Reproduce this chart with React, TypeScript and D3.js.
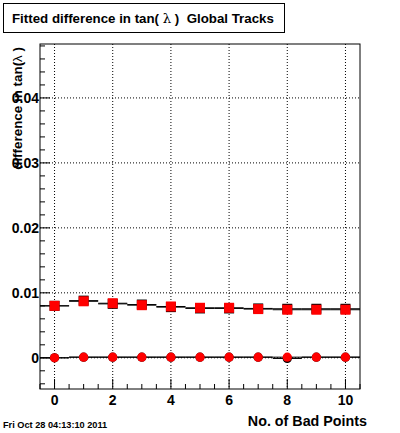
import * as d3 from 'd3';

// bad points (bin centers)
const badPoints = [0, 1, 2, 3, 4, 5, 6, 7, 8, 9, 10];

// upper series (squares): black underlay graph and red overlay graph
const slopeBlack = [0.0080, 0.0088, 0.0083, 0.0082, 0.0078, 0.0076, 0.0076, 0.0076, 0.00755, 0.00755, 0.00755];
const slopeRed = [0.0080, 0.0087, 0.0084, 0.0081, 0.0079, 0.0077, 0.0077, 0.0075, 0.0074, 0.0074, 0.0074];

// lower series (circles)
const offsetBlack = [0.0, 0.0001, 0.0001, 0.0001, 0.0001, 0.0001, 0.0001, 0.0001, -0.0001, 0.0001, 0.0001];
const offsetRed = [0.0, 0.0001, 0.0001, 0.0001, 0.0001, 0.0001, 0.0001, 0.0001, 0.0001, 0.0001, 0.0001];

const xTickLabels = [0, 2, 4, 6, 8, 10];
const yTickLabels = [0, 0.01, 0.02, 0.03, 0.04];

const W = 400;
const H = 433;
const frame = { left: 40, right: 360, top: 44, bottom: 389 };

export default function App() {
  const x = d3.scaleLinear().domain([-0.5, 10.5]).range([frame.left, frame.right]);
  const y = d3.scaleLinear().domain([-0.0048, 0.0483]).range([frame.bottom, frame.top]);

  const xMinor = d3.range(-0.5, 10.51, 0.5);
  const yMinor = d3.range(-0.004, 0.0481, 0.002);

  const font = '"Liberation Sans", Arial, Helvetica, sans-serif';

  const segments = (vals: number[], key: string, width: number) =>
    vals.map((v, i) => (
      <line
        key={key + i}
        x1={x(badPoints[i] - 0.5)}
        x2={x(badPoints[i] + 0.5)}
        y1={y(v)}
        y2={y(v)}
        stroke="#000"
        strokeWidth={width}
      />
    ));

  const squares = (vals: number[], key: string, color: string) =>
    vals.map((v, i) => (
      <rect key={key + i} x={x(badPoints[i]) - 5} y={y(v) - 5} width={10} height={10} fill={color} />
    ));

  const circles = (vals: number[], key: string, color: string) =>
    vals.map((v, i) => <circle key={key + i} cx={x(badPoints[i])} cy={y(v)} r={4.6} fill={color} />);

  return (
    <svg
      width={W}
      height={H}
      style={{ position: 'absolute', left: 0, top: 0, background: '#fff' }}
      fontFamily={font}
    >
      <rect x={0} y={0} width={W} height={H} fill="#fff" />

      {/* grid */}
      {xTickLabels.map((t) => (
        <line key={'gx' + t} x1={x(t)} x2={x(t)} y1={frame.top} y2={frame.bottom} stroke="#000" strokeDasharray="1 2" />
      ))}
      {yTickLabels.map((t) => (
        <line key={'gy' + t} x1={frame.left} x2={frame.right} y1={y(t)} y2={y(t)} stroke="#000" strokeDasharray="1 2" />
      ))}

      {/* frame */}
      <rect
        x={frame.left}
        y={frame.top}
        width={frame.right - frame.left}
        height={frame.bottom - frame.top}
        fill="none"
        stroke="#000"
      />

      {/* x ticks */}
      {xMinor.map((t) => {
        const major = Math.abs(t / 2 - Math.round(t / 2)) < 1e-6;
        return (
          <line key={'xt' + t} x1={x(t)} x2={x(t)} y1={frame.bottom} y2={frame.bottom - (major ? 10 : 5)} stroke="#000" />
        );
      })}
      {xTickLabels.map((t) => (
        <text key={'xl' + t} x={x(t)} y={405} textAnchor="middle" fontSize={14} fontWeight="bold">
          {t}
        </text>
      ))}

      {/* y ticks */}
      {yMinor.map((t) => {
        const major = Math.abs(t / 0.01 - Math.round(t / 0.01)) < 1e-6;
        return (
          <line key={'yt' + t} x1={frame.left} x2={frame.left + (major ? 10 : 5)} y1={y(t)} y2={y(t)} stroke="#000" />
        );
      })}
      {yTickLabels.map((t) => (
        <text key={'yl' + t} x={39} y={y(t) + 5} textAnchor="end" fontSize={14} fontWeight="bold">
          {t === 0 ? '0' : d3.format('.2f')(t)}
        </text>
      ))}

      {/* data */}
      {segments(slopeBlack, 'sb', 1)}
      {squares(slopeBlack, 'qb', '#000')}
      {segments(slopeRed, 'sr', 1)}
      {squares(slopeRed, 'qr', '#ff0000')}

      {segments(offsetBlack, 'ob', 1)}
      {circles(offsetBlack, 'cb', '#000')}
      {segments(offsetRed, 'or', 1)}
      {circles(offsetRed, 'cr', '#ff0000')}

      {/* axis titles */}
      <text
        transform={`translate(22,47) rotate(-90)`}
        textAnchor="end"
        fontSize={13.4}
        fontWeight="bold"
        xmlSpace="preserve"
      >
        difference in tan(<tspan fontWeight="normal">λ</tspan> )
      </text>
      <text x={367} y={426} textAnchor="end" fontSize={14.3} fontWeight="bold">
        No. of Bad Points
      </text>

      {/* title box */}
      <rect x={3.5} y={3.5} width={281} height={29} fill="#fff" stroke="#000" />
      <text x={12} y={23} fontSize={13.3} fontWeight="bold" xmlSpace="preserve">
        Fitted difference in tan( <tspan fontWeight="normal" fontFamily="DejaVu Serif">λ</tspan> )  Global Tracks
      </text>

      {/* date stamp */}
      <text x={3} y={428} fontSize={9.2} fontWeight="bold">
        Fri Oct 28 04:13:10 2011
      </text>
    </svg>
  );
}
